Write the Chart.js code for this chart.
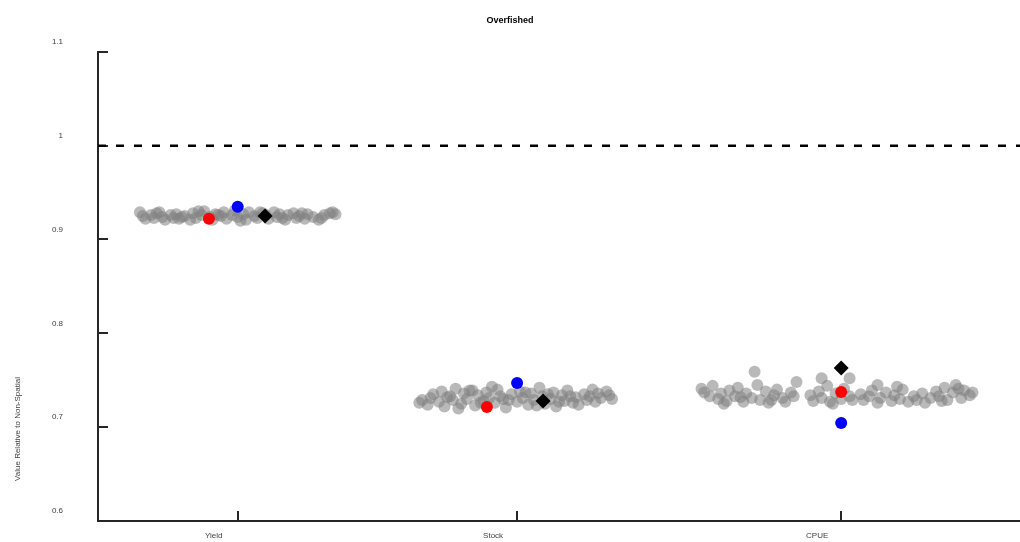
<!DOCTYPE html>
<html>
<head>
<meta charset="utf-8">
<script src="https://cdn.jsdelivr.net/npm/chart.js@4.4.1/dist/chart.umd.min.js"></script>
<style>
  html, body { margin: 0; padding: 0; background: #fff; }
</style>
</head>
<body>
<canvas id="chart" width="1020" height="542"></canvas>
<script>
// categories and where they sit on the x axis
const categories = ['Yield', 'Stock', 'CPUE'];
const categoryX = [1, 2, 3.16];
const yTicks = [0.6, 0.7, 0.8, 0.9, 1, 1.1];
const chartTitle = 'Overfished';
const yTitle = 'Value Relative to Non-Spatial';
const referenceValue = 1;

// grey jittered runs
const yieldX = [0.65,0.66,0.67,0.69,0.70,0.71,0.73,0.74,0.76,0.77,0.78,0.80,0.81,0.83,0.84,0.85,0.87,0.88,0.90,0.91,
  0.92,0.94,0.95,0.96,0.98,0.99,1.00,1.02,1.03,1.04,1.06,1.07,1.09,1.10,1.11,1.13,1.14,1.15,1.17,1.18,
  1.20,1.21,1.22,1.24,1.25,1.27,1.29,1.30,1.31,1.33,1.34,1.35,0.72,0.79,0.86,0.93,1.01,1.08,1.16,1.23];
const yieldY = [0.929,0.925,0.922,0.926,0.923,0.928,0.924,0.921,0.926,0.923,0.927,0.924,0.925,0.921,0.928,0.923,0.926,0.930,0.924,0.921,
  0.927,0.925,0.929,0.922,0.926,0.931,0.924,0.927,0.921,0.929,0.925,0.923,0.928,0.926,0.922,0.929,0.924,0.927,0.921,0.926,
  0.928,0.923,0.925,0.922,0.927,0.924,0.921,0.923,0.926,0.928,0.929,0.927,0.929,0.922,0.930,0.926,0.920,0.929,0.923,0.928];

const stockX = [1.65,1.66,1.68,1.69,1.70,1.72,1.73,1.74,1.76,1.77,1.78,1.80,1.81,1.82,1.84,1.85,1.86,1.88,1.89,1.90,
  1.92,1.93,1.94,1.96,1.97,1.98,2.00,2.01,2.02,2.04,2.05,2.06,2.08,2.09,2.10,2.12,2.13,2.14,2.16,2.17,
  2.18,2.20,2.21,2.22,2.24,2.25,2.26,2.28,2.29,2.30,2.32,2.33,2.34,1.75,1.79,1.83,1.87,1.91,1.95,2.03,
  2.07,2.11,2.15,2.19,2.27];
const stockY = [0.726,0.729,0.724,0.731,0.735,0.727,0.738,0.722,0.733,0.729,0.741,0.725,0.736,0.730,0.739,0.723,0.734,0.728,0.737,0.731,
  0.726,0.740,0.733,0.721,0.729,0.735,0.727,0.738,0.731,0.724,0.736,0.729,0.742,0.733,0.725,0.730,0.737,0.722,0.734,0.728,
  0.739,0.726,0.732,0.724,0.735,0.729,0.733,0.727,0.736,0.731,0.738,0.734,0.730,0.732,0.720,0.739,0.726,0.743,0.730,0.737,
  0.723,0.735,0.727,0.733,0.740];

const cpueX = [2.66,2.67,2.69,2.70,2.72,2.73,2.75,2.76,2.78,2.79,2.81,2.82,2.84,2.86,2.87,2.89,2.90,2.92,2.93,2.95,
  2.96,2.98,2.99,3.05,3.06,3.08,3.09,3.11,3.12,3.14,3.16,3.17,3.19,3.20,3.23,3.24,3.26,3.27,3.29,3.30,
  3.32,3.34,3.35,3.37,3.38,3.40,3.42,3.43,3.45,3.46,3.48,3.50,3.51,3.53,3.54,3.56,3.57,3.59,3.60,3.62,
  3.63,2.85,3.00,3.09,3.19,3.29,2.74,2.80,2.91,3.13,3.36,3.52,3.58];
const cpueY = [0.741,0.737,0.733,0.744,0.730,0.736,0.728,0.739,0.733,0.742,0.727,0.736,0.731,0.745,0.729,0.738,0.726,0.734,0.740,0.731,
  0.727,0.737,0.733,0.734,0.728,0.738,0.731,0.744,0.727,0.736,0.730,0.741,0.733,0.729,0.735,0.729,0.733,0.739,0.726,0.731,
  0.737,0.728,0.734,0.730,0.740,0.727,0.733,0.729,0.736,0.726,0.731,0.738,0.733,0.742,0.729,0.737,0.745,0.731,0.739,0.734,
  0.737,0.759,0.748,0.752,0.752,0.745,0.725,0.732,0.729,0.725,0.743,0.728,0.741];

// highlighted runs: red dot, blue dot, black diamond
const redX = [0.897, 1.892, 3.16];
const redY = [0.922, 0.7215, 0.7375];
const blueX = [1.0, 2.0, 3.16];
const blueY = [0.935, 0.747, 0.7045];
const diamondX = [1.098, 2.093, 3.16];
const diamondY = [0.925, 0.728, 0.763];

const axisColor = '#262626';
const textColor = '#404040';
const font = '"Liberation Sans", Arial, sans-serif';

const pts = (xs, ys) => xs.map((x, i) => ({ x: x, y: ys[i] }));

const grey = (xs, ys) => ({
  data: pts(xs, ys),
  pointRadius: 6,
  pointBackgroundColor: 'rgba(128,128,128,0.55)',
  pointBorderWidth: 0
});

// axis title sits low on the left, drawn by hand so it can be placed freely
const yTitlePlugin = {
  id: 'yTitle',
  afterDraw(chart) {
    const c = chart.ctx;
    c.save();
    c.translate(18, 429);
    c.rotate(-Math.PI / 2);
    c.font = '8px ' + font;
    c.fillStyle = textColor;
    c.textAlign = 'center';
    c.textBaseline = 'middle';
    c.fillText(yTitle, 0, 0);
    c.restore();
  }
};

new Chart(document.getElementById('chart'), {
  type: 'scatter',
  data: {
    datasets: [
      { data: pts(diamondX, diamondY), pointStyle: 'rectRot', pointRadius: 7.5, pointBackgroundColor: '#000', pointBorderWidth: 0 },
      { data: pts(blueX, blueY), pointRadius: 6, pointBackgroundColor: '#0000ff', pointBorderWidth: 0 },
      { data: pts(redX, redY), pointRadius: 6, pointBackgroundColor: '#ff0000', pointBorderWidth: 0 },
      grey(yieldX, yieldY),
      grey(stockX, stockY),
      grey(cpueX, cpueY),
      {
        type: 'line',
        data: [{ x: 0.5, y: referenceValue }, { x: 3.8, y: referenceValue }],
        borderColor: '#000', borderWidth: 2.5, borderDash: [8, 10], pointRadius: 0
      }
    ]
  },
  options: {
    responsive: false,
    animation: false,
    devicePixelRatio: 1,
    events: [],
    layout: { padding: 0, autoPadding: false },
    plugins: {
      legend: { display: false },
      tooltip: { enabled: false },
      title: {
        display: true,
        text: chartTitle,
        color: '#000',
        font: { family: font, size: 9, weight: 'bold' },
        padding: { top: 15, bottom: 26 }
      }
    },
    scales: {
      x: {
        type: 'linear',
        min: 0.5,
        max: 3.8,
        afterBuildTicks: s => { s.ticks = categoryX.map(v => ({ value: v })); },
        afterFit: s => { s.height = 21; s.paddingLeft = 0; s.paddingRight = 0; },
        grid: { drawOnChartArea: false, tickLength: -10, color: axisColor, lineWidth: 2 },
        border: { color: axisColor, width: 2 },
        ticks: {
          callback: (v, i) => categories[i],
          autoSkip: false,
          maxRotation: 0,
          labelOffset: -24,
          padding: 20,
          color: textColor,
          font: { family: font, size: 8 }
        }
      },
      y: {
        min: 0.6,
        max: 1.1,
        afterBuildTicks: s => { s.ticks = yTicks.map(v => ({ value: v })); },
        afterFit: s => { s.width = 98; s.paddingTop = 0; s.paddingBottom = 0; },
        grid: { drawOnChartArea: false, tickLength: -10, color: axisColor, lineWidth: 2 },
        border: { color: axisColor, width: 2 },
        ticks: {
          callback: v => String(Math.round(v * 10) / 10),
          crossAlign: 'near',
          labelOffset: -10,
          padding: 45,
          color: textColor,
          font: { family: font, size: 8 }
        }
      }
    }
  },
  plugins: [yTitlePlugin]
});
</script>
</body>
</html>
